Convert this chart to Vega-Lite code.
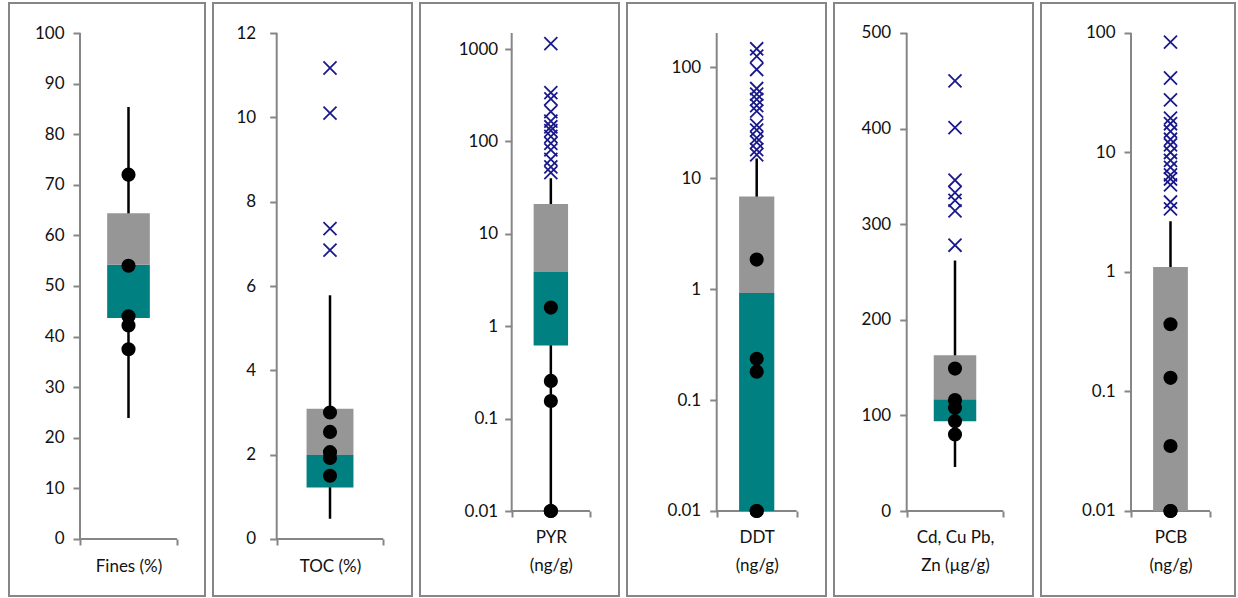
{
  "$schema": "https://vega.github.io/schema/vega-lite/v6.json",
  "background": "white",
  "padding": {"left": 8, "top": 2, "right": 0, "bottom": 0},
  "spacing": 6,
  "config": {
    "view": {"stroke": "#868686", "strokeWidth": 2},
    "axis": {"grid": false, "domain": false, "tickColor": "#868686", "tickWidth": 2, "labelFont": "Lato", "labelFontSize": 17, "labelColor": "#111111", "labelOverlap": false, "labelFlush": false, "labelBound": false, "titleFontSize": 0}
  },
  "datasets": {
    "stats": [
      {"panel": "Fines", "q1": 43.7, "median": 54.2, "q3": 64.4, "wlo": 23.9, "whi": 85.4},
      {"panel": "TOC", "q1": 1.22, "median": 1.99, "q3": 3.09, "wlo": 0.48, "whi": 5.78},
      {"panel": "PYR", "q1": 0.62, "median": 3.86, "q3": 21, "wlo": 0.01, "whi": 40},
      {"panel": "DDT", "q1": 0.01, "median": 0.92, "q3": 6.8, "wlo": 0.01, "whi": 15},
      {"panel": "Metals", "q1": 94, "median": 117, "q3": 163, "wlo": 46, "whi": 262},
      {"panel": "PCB", "q1": 0.01, "median": 0.01, "q3": 1.1, "wlo": 0.01, "whi": 2.66}
    ],
    "obs": [
      {"panel": "Fines", "kind": "dot", "value": 72},
      {"panel": "Fines", "kind": "dot", "value": 54},
      {"panel": "Fines", "kind": "dot", "value": 44},
      {"panel": "Fines", "kind": "dot", "value": 42.2},
      {"panel": "Fines", "kind": "dot", "value": 37.5},
      {"panel": "TOC", "kind": "dot", "value": 3.0},
      {"panel": "TOC", "kind": "dot", "value": 2.54},
      {"panel": "TOC", "kind": "dot", "value": 2.06},
      {"panel": "TOC", "kind": "dot", "value": 1.92},
      {"panel": "TOC", "kind": "dot", "value": 1.5},
      {"panel": "TOC", "kind": "out", "value": 11.17},
      {"panel": "TOC", "kind": "out", "value": 10.1},
      {"panel": "TOC", "kind": "out", "value": 7.36},
      {"panel": "TOC", "kind": "out", "value": 6.85},
      {"panel": "PYR", "kind": "dot", "value": 1.59},
      {"panel": "PYR", "kind": "dot", "value": 0.256},
      {"panel": "PYR", "kind": "dot", "value": 0.155},
      {"panel": "PYR", "kind": "dot", "value": 0.01},
      {"panel": "PYR", "kind": "dot", "value": 0.01},
      {"panel": "PYR", "kind": "out", "value": 1142},
      {"panel": "PYR", "kind": "out", "value": 338},
      {"panel": "PYR", "kind": "out", "value": 288},
      {"panel": "PYR", "kind": "out", "value": 210},
      {"panel": "PYR", "kind": "out", "value": 166},
      {"panel": "PYR", "kind": "out", "value": 144},
      {"panel": "PYR", "kind": "out", "value": 131},
      {"panel": "PYR", "kind": "out", "value": 113},
      {"panel": "PYR", "kind": "out", "value": 95},
      {"panel": "PYR", "kind": "out", "value": 81},
      {"panel": "PYR", "kind": "out", "value": 64},
      {"panel": "PYR", "kind": "out", "value": 53},
      {"panel": "PYR", "kind": "out", "value": 46},
      {"panel": "DDT", "kind": "dot", "value": 1.84},
      {"panel": "DDT", "kind": "dot", "value": 0.235},
      {"panel": "DDT", "kind": "dot", "value": 0.18},
      {"panel": "DDT", "kind": "dot", "value": 0.01},
      {"panel": "DDT", "kind": "dot", "value": 0.01},
      {"panel": "DDT", "kind": "out", "value": 146},
      {"panel": "DDT", "kind": "out", "value": 125},
      {"panel": "DDT", "kind": "out", "value": 95},
      {"panel": "DDT", "kind": "out", "value": 64},
      {"panel": "DDT", "kind": "out", "value": 57},
      {"panel": "DDT", "kind": "out", "value": 51},
      {"panel": "DDT", "kind": "out", "value": 45},
      {"panel": "DDT", "kind": "out", "value": 40},
      {"panel": "DDT", "kind": "out", "value": 30},
      {"panel": "DDT", "kind": "out", "value": 27},
      {"panel": "DDT", "kind": "out", "value": 23},
      {"panel": "DDT", "kind": "out", "value": 21},
      {"panel": "DDT", "kind": "out", "value": 18},
      {"panel": "DDT", "kind": "out", "value": 16.2},
      {"panel": "Metals", "kind": "dot", "value": 149},
      {"panel": "Metals", "kind": "dot", "value": 116},
      {"panel": "Metals", "kind": "dot", "value": 108},
      {"panel": "Metals", "kind": "dot", "value": 94},
      {"panel": "Metals", "kind": "dot", "value": 80},
      {"panel": "Metals", "kind": "out", "value": 450},
      {"panel": "Metals", "kind": "out", "value": 401},
      {"panel": "Metals", "kind": "out", "value": 346},
      {"panel": "Metals", "kind": "out", "value": 333},
      {"panel": "Metals", "kind": "out", "value": 325},
      {"panel": "Metals", "kind": "out", "value": 314},
      {"panel": "Metals", "kind": "out", "value": 278},
      {"panel": "PCB", "kind": "dot", "value": 0.365},
      {"panel": "PCB", "kind": "dot", "value": 0.13},
      {"panel": "PCB", "kind": "dot", "value": 0.035},
      {"panel": "PCB", "kind": "dot", "value": 0.01},
      {"panel": "PCB", "kind": "dot", "value": 0.01},
      {"panel": "PCB", "kind": "out", "value": 84},
      {"panel": "PCB", "kind": "out", "value": 42},
      {"panel": "PCB", "kind": "out", "value": 27.6},
      {"panel": "PCB", "kind": "out", "value": 19.4},
      {"panel": "PCB", "kind": "out", "value": 17.4},
      {"panel": "PCB", "kind": "out", "value": 15},
      {"panel": "PCB", "kind": "out", "value": 12.9},
      {"panel": "PCB", "kind": "out", "value": 11.6},
      {"panel": "PCB", "kind": "out", "value": 10},
      {"panel": "PCB", "kind": "out", "value": 8.6},
      {"panel": "PCB", "kind": "out", "value": 7.5},
      {"panel": "PCB", "kind": "out", "value": 6.5},
      {"panel": "PCB", "kind": "out", "value": 6.0},
      {"panel": "PCB", "kind": "out", "value": 5.35},
      {"panel": "PCB", "kind": "out", "value": 3.85},
      {"panel": "PCB", "kind": "out", "value": 3.37}
    ]
  },
  "hconcat": [
    {
      "width": 196, "height": 593,
      "layer": [
        {"data": {"name": "stats"}, "transform": [{"filter": "datum.panel == 'Fines'"}],
         "mark": {"type": "rule", "color": "#868686", "strokeWidth": 2},
         "encoding": {
           "x": {"datum": -0.5, "type": "quantitative", "scale": {"domain": [-1.232, 0.7887], "nice": false, "zero": false},
                 "axis": {"orient": "bottom", "offset": -57, "values": [-0.5, 0, 0.5], "tickSize": 6, "tickOpacity": {"condition": {"test": "datum.value == 0", "value": 0}, "value": 1}, "labelExpr": "datum.value == 0 ? 'Fines (%)' : ''", "labelPadding": 13, "labelBaseline": "top", "labelLineHeight": 28, "title": null}},
           "y": {"datum": 0, "type": "quantitative", "scale": {"domain": [-11.265, 105.929], "nice": false, "zero": false},
                 "axis": {"orient": "left", "offset": -71, "values": [0, 10, 20, 30, 40, 50, 60, 70, 80, 90, 100], "tickSize": 7, "labelPadding": 9, "title": null}},
           "y2": {"datum": 100}
         }},
        {"data": {"name": "stats"}, "transform": [{"filter": "datum.panel == 'Fines'"}],
         "mark": {"type": "rule", "color": "#868686", "strokeWidth": 2},
         "encoding": {"x": {"datum": -0.5, "type": "quantitative"}, "x2": {"datum": 0.5}, "y": {"datum": 0, "type": "quantitative"}}},
        {"data": {"name": "stats"}, "transform": [{"filter": "datum.panel == 'Fines'"}],
         "mark": {"type": "rule", "color": "black", "strokeWidth": 2.5},
         "encoding": {"x": {"datum": 0, "type": "quantitative"}, "y": {"field": "wlo", "type": "quantitative"}, "y2": {"field": "whi"}}},
        {"data": {"name": "stats"}, "transform": [{"filter": "datum.panel == 'Fines'"}],
         "mark": {"type": "rect", "color": "#008080"},
         "encoding": {"x": {"datum": -0.22, "type": "quantitative"}, "x2": {"datum": 0.22}, "y": {"field": "q1", "type": "quantitative"}, "y2": {"field": "median"}}},
        {"data": {"name": "stats"}, "transform": [{"filter": "datum.panel == 'Fines'"}],
         "mark": {"type": "rect", "color": "#969696"},
         "encoding": {"x": {"datum": -0.22, "type": "quantitative"}, "x2": {"datum": 0.22}, "y": {"field": "median", "type": "quantitative"}, "y2": {"field": "q3"}}},
        {"data": {"name": "obs"}, "transform": [{"filter": "datum.panel == 'Fines' && datum.kind == 'dot'"}],
         "mark": {"type": "point", "shape": "circle", "filled": true, "color": "black", "opacity": 1, "size": 200},
         "encoding": {"x": {"datum": 0, "type": "quantitative"}, "y": {"field": "value", "type": "quantitative"}}}
      ]
    },
    {
      "width": 199, "height": 593,
      "layer": [
        {"data": {"name": "stats"}, "transform": [{"filter": "datum.panel == 'TOC'"}],
         "mark": {"type": "rule", "color": "#868686", "strokeWidth": 2},
         "encoding": {
           "x": {"datum": -0.5, "type": "quantitative", "scale": {"domain": [-1.0976, 0.7692], "nice": false, "zero": false},
                 "axis": {"orient": "bottom", "offset": -57, "values": [-0.5, 0, 0.5], "tickSize": 6, "tickOpacity": {"condition": {"test": "datum.value == 0", "value": 0}, "value": 1}, "labelExpr": "datum.value == 0 ? 'TOC (%)' : ''", "labelPadding": 13, "labelBaseline": "top", "labelLineHeight": 28, "title": null}},
           "y": {"datum": 0, "type": "quantitative", "scale": {"domain": [-1.3518, 12.7115], "nice": false, "zero": false},
                 "axis": {"orient": "left", "offset": -63.7, "values": [0, 2, 4, 6, 8, 10, 12], "tickSize": 7, "labelPadding": 14, "title": null}},
           "y2": {"datum": 12}
         }},
        {"data": {"name": "stats"}, "transform": [{"filter": "datum.panel == 'TOC'"}],
         "mark": {"type": "rule", "color": "#868686", "strokeWidth": 2},
         "encoding": {"x": {"datum": -0.5, "type": "quantitative"}, "x2": {"datum": 0.5}, "y": {"datum": 0, "type": "quantitative"}}},
        {"data": {"name": "stats"}, "transform": [{"filter": "datum.panel == 'TOC'"}],
         "mark": {"type": "rule", "color": "black", "strokeWidth": 2.5},
         "encoding": {"x": {"datum": 0, "type": "quantitative"}, "y": {"field": "wlo", "type": "quantitative"}, "y2": {"field": "whi"}}},
        {"data": {"name": "stats"}, "transform": [{"filter": "datum.panel == 'TOC'"}],
         "mark": {"type": "rect", "color": "#008080"},
         "encoding": {"x": {"datum": -0.22, "type": "quantitative"}, "x2": {"datum": 0.22}, "y": {"field": "q1", "type": "quantitative"}, "y2": {"field": "median"}}},
        {"data": {"name": "stats"}, "transform": [{"filter": "datum.panel == 'TOC'"}],
         "mark": {"type": "rect", "color": "#969696"},
         "encoding": {"x": {"datum": -0.22, "type": "quantitative"}, "x2": {"datum": 0.22}, "y": {"field": "median", "type": "quantitative"}, "y2": {"field": "q3"}}},
        {"data": {"name": "obs"}, "transform": [{"filter": "datum.panel == 'TOC' && datum.kind == 'dot'"}],
         "mark": {"type": "point", "shape": "circle", "filled": true, "color": "black", "opacity": 1, "size": 200},
         "encoding": {"x": {"datum": 0, "type": "quantitative"}, "y": {"field": "value", "type": "quantitative"}}},
        {"data": {"name": "obs"}, "transform": [{"filter": "datum.panel == 'TOC' && datum.kind == 'out'"}],
         "mark": {"type": "point", "shape": "M-1,-1L1,1M-1,1L1,-1", "filled": false, "color": "#1a1a8c", "opacity": 1, "strokeWidth": 1.8, "size": 170},
         "encoding": {"x": {"datum": 0, "type": "quantitative"}, "y": {"field": "value", "type": "quantitative"}}}
      ]
    },
    {
      "width": 199, "height": 593,
      "layer": [
        {"data": {"name": "stats"}, "transform": [{"filter": "datum.panel == 'PYR'"}],
         "mark": {"type": "rule", "color": "#868686", "strokeWidth": 2},
         "encoding": {
           "x": {"datum": -0.5, "type": "quantitative", "scale": {"domain": [-1.6711, 0.8704], "nice": false, "zero": false},
                 "axis": {"orient": "bottom", "offset": -85, "values": [-0.5, 0, 0.5], "tickSize": 6, "tickOpacity": {"condition": {"test": "datum.value == 0", "value": 0}, "value": 1}, "labelExpr": "datum.value == 0 ? ['PYR', '(ng/g)'] : ''", "labelPadding": 12, "labelBaseline": "top", "labelLineHeight": 28, "title": null}},
           "y": {"datum": 0.01, "type": "quantitative", "scale": {"type": "log", "domain": [0.0012025, 3147], "nice": false},
                 "axis": {"orient": "left", "offset": -91.7, "values": [0.01, 0.1, 1, 10, 100, 1000], "format": "~g", "tickSize": 7, "labelPadding": 7, "title": null}},
           "y2": {"datum": 1490}
         }},
        {"data": {"name": "stats"}, "transform": [{"filter": "datum.panel == 'PYR'"}],
         "mark": {"type": "rule", "color": "#868686", "strokeWidth": 2},
         "encoding": {"x": {"datum": -0.5, "type": "quantitative"}, "x2": {"datum": 0.5}, "y": {"datum": 0.01, "type": "quantitative"}}},
        {"data": {"name": "stats"}, "transform": [{"filter": "datum.panel == 'PYR'"}],
         "mark": {"type": "rule", "color": "black", "strokeWidth": 2.5},
         "encoding": {"x": {"datum": 0, "type": "quantitative"}, "y": {"field": "wlo", "type": "quantitative"}, "y2": {"field": "whi"}}},
        {"data": {"name": "stats"}, "transform": [{"filter": "datum.panel == 'PYR'"}],
         "mark": {"type": "rect", "color": "#008080"},
         "encoding": {"x": {"datum": -0.22, "type": "quantitative"}, "x2": {"datum": 0.22}, "y": {"field": "q1", "type": "quantitative"}, "y2": {"field": "median"}}},
        {"data": {"name": "stats"}, "transform": [{"filter": "datum.panel == 'PYR'"}],
         "mark": {"type": "rect", "color": "#969696"},
         "encoding": {"x": {"datum": -0.22, "type": "quantitative"}, "x2": {"datum": 0.22}, "y": {"field": "median", "type": "quantitative"}, "y2": {"field": "q3"}}},
        {"data": {"name": "obs"}, "transform": [{"filter": "datum.panel == 'PYR' && datum.kind == 'dot'"}],
         "mark": {"type": "point", "shape": "circle", "filled": true, "color": "black", "opacity": 1, "size": 200},
         "encoding": {"x": {"datum": 0, "type": "quantitative"}, "y": {"field": "value", "type": "quantitative"}}},
        {"data": {"name": "obs"}, "transform": [{"filter": "datum.panel == 'PYR' && datum.kind == 'out'"}],
         "mark": {"type": "point", "shape": "M-1,-1L1,1M-1,1L1,-1", "filled": false, "color": "#1a1a8c", "opacity": 1, "strokeWidth": 1.8, "size": 170},
         "encoding": {"x": {"datum": 0, "type": "quantitative"}, "y": {"field": "value", "type": "quantitative"}}}
      ]
    },
    {
      "width": 199, "height": 593,
      "layer": [
        {"data": {"name": "stats"}, "transform": [{"filter": "datum.panel == 'DDT'"}],
         "mark": {"type": "rule", "color": "#868686", "strokeWidth": 2},
         "encoding": {
           "x": {"datum": -0.5, "type": "quantitative", "scale": {"domain": [-1.6213, 0.8663], "nice": false, "zero": false},
                 "axis": {"orient": "bottom", "offset": -85, "values": [-0.5, 0, 0.5], "tickSize": 6, "tickOpacity": {"condition": {"test": "datum.value == 0", "value": 0}, "value": 1}, "labelExpr": "datum.value == 0 ? ['DDT', '(ng/g)'] : ''", "labelPadding": 12, "labelBaseline": "top", "labelLineHeight": 28, "title": null}},
           "y": {"datum": 0.01, "type": "quantitative", "scale": {"type": "log", "domain": [0.0017148, 377.3], "nice": false},
                 "axis": {"orient": "left", "offset": -89.7, "values": [0.01, 0.1, 1, 10, 100], "format": "~g", "tickSize": 7, "labelPadding": 9, "title": null}},
           "y2": {"datum": 202}
         }},
        {"data": {"name": "stats"}, "transform": [{"filter": "datum.panel == 'DDT'"}],
         "mark": {"type": "rule", "color": "#868686", "strokeWidth": 2},
         "encoding": {"x": {"datum": -0.5, "type": "quantitative"}, "x2": {"datum": 0.5}, "y": {"datum": 0.01, "type": "quantitative"}}},
        {"data": {"name": "stats"}, "transform": [{"filter": "datum.panel == 'DDT'"}],
         "mark": {"type": "rule", "color": "black", "strokeWidth": 2.5},
         "encoding": {"x": {"datum": 0, "type": "quantitative"}, "y": {"field": "wlo", "type": "quantitative"}, "y2": {"field": "whi"}}},
        {"data": {"name": "stats"}, "transform": [{"filter": "datum.panel == 'DDT'"}],
         "mark": {"type": "rect", "color": "#008080"},
         "encoding": {"x": {"datum": -0.22, "type": "quantitative"}, "x2": {"datum": 0.22}, "y": {"field": "q1", "type": "quantitative"}, "y2": {"field": "median"}}},
        {"data": {"name": "stats"}, "transform": [{"filter": "datum.panel == 'DDT'"}],
         "mark": {"type": "rect", "color": "#969696"},
         "encoding": {"x": {"datum": -0.22, "type": "quantitative"}, "x2": {"datum": 0.22}, "y": {"field": "median", "type": "quantitative"}, "y2": {"field": "q3"}}},
        {"data": {"name": "obs"}, "transform": [{"filter": "datum.panel == 'DDT' && datum.kind == 'dot'"}],
         "mark": {"type": "point", "shape": "circle", "filled": true, "color": "black", "opacity": 1, "size": 200},
         "encoding": {"x": {"datum": 0, "type": "quantitative"}, "y": {"field": "value", "type": "quantitative"}}},
        {"data": {"name": "obs"}, "transform": [{"filter": "datum.panel == 'DDT' && datum.kind == 'out'"}],
         "mark": {"type": "point", "shape": "M-1,-1L1,1M-1,1L1,-1", "filled": false, "color": "#1a1a8c", "opacity": 1, "strokeWidth": 1.8, "size": 170},
         "encoding": {"x": {"datum": 0, "type": "quantitative"}, "y": {"field": "value", "type": "quantitative"}}}
      ]
    },
    {
      "width": 199, "height": 593,
      "layer": [
        {"data": {"name": "stats"}, "transform": [{"filter": "datum.panel == 'Metals'"}],
         "mark": {"type": "rule", "color": "#868686", "strokeWidth": 2},
         "encoding": {
           "x": {"datum": -0.5, "type": "quantitative", "scale": {"domain": [-1.2526, 0.8075], "nice": false, "zero": false},
                 "axis": {"orient": "bottom", "offset": -85, "values": [-0.5, 0, 0.5], "tickSize": 6, "tickOpacity": {"condition": {"test": "datum.value == 0", "value": 0}, "value": 1}, "labelExpr": "datum.value == 0 ? ['Cd, Cu Pb,', 'Zn (µg/g)'] : ''", "labelPadding": 12, "labelBaseline": "top", "labelLineHeight": 28, "title": null}},
           "y": {"datum": 0, "type": "quantitative", "scale": {"domain": [-88.91, 531.38], "nice": false, "zero": false},
                 "axis": {"orient": "left", "offset": -72.7, "values": [0, 100, 200, 300, 400, 500], "tickSize": 7, "labelPadding": 9, "title": null}},
           "y2": {"datum": 500}
         }},
        {"data": {"name": "stats"}, "transform": [{"filter": "datum.panel == 'Metals'"}],
         "mark": {"type": "rule", "color": "#868686", "strokeWidth": 2},
         "encoding": {"x": {"datum": -0.5, "type": "quantitative"}, "x2": {"datum": 0.5}, "y": {"datum": 0, "type": "quantitative"}}},
        {"data": {"name": "stats"}, "transform": [{"filter": "datum.panel == 'Metals'"}],
         "mark": {"type": "rule", "color": "black", "strokeWidth": 2.5},
         "encoding": {"x": {"datum": 0, "type": "quantitative"}, "y": {"field": "wlo", "type": "quantitative"}, "y2": {"field": "whi"}}},
        {"data": {"name": "stats"}, "transform": [{"filter": "datum.panel == 'Metals'"}],
         "mark": {"type": "rect", "color": "#008080"},
         "encoding": {"x": {"datum": -0.22, "type": "quantitative"}, "x2": {"datum": 0.22}, "y": {"field": "q1", "type": "quantitative"}, "y2": {"field": "median"}}},
        {"data": {"name": "stats"}, "transform": [{"filter": "datum.panel == 'Metals'"}],
         "mark": {"type": "rect", "color": "#969696"},
         "encoding": {"x": {"datum": -0.22, "type": "quantitative"}, "x2": {"datum": 0.22}, "y": {"field": "median", "type": "quantitative"}, "y2": {"field": "q3"}}},
        {"data": {"name": "obs"}, "transform": [{"filter": "datum.panel == 'Metals' && datum.kind == 'dot'"}],
         "mark": {"type": "point", "shape": "circle", "filled": true, "color": "black", "opacity": 1, "size": 200},
         "encoding": {"x": {"datum": 0, "type": "quantitative"}, "y": {"field": "value", "type": "quantitative"}}},
        {"data": {"name": "obs"}, "transform": [{"filter": "datum.panel == 'Metals' && datum.kind == 'out'"}],
         "mark": {"type": "point", "shape": "M-1,-1L1,1M-1,1L1,-1", "filled": false, "color": "#1a1a8c", "opacity": 1, "strokeWidth": 1.8, "size": 170},
         "encoding": {"x": {"datum": 0, "type": "quantitative"}, "y": {"field": "value", "type": "quantitative"}}}
      ]
    },
    {
      "width": 194, "height": 593,
      "layer": [
        {"data": {"name": "stats"}, "transform": [{"filter": "datum.panel == 'PCB'"}],
         "mark": {"type": "rule", "color": "#868686", "strokeWidth": 2},
         "encoding": {
           "x": {"datum": -0.5, "type": "quantitative", "scale": {"domain": [-1.6392, 0.8165], "nice": false, "zero": false},
                 "axis": {"orient": "bottom", "offset": -85, "values": [-0.5, 0, 0.5], "tickSize": 6, "tickOpacity": {"condition": {"test": "datum.value == 0", "value": 0}, "value": 1}, "labelExpr": "datum.value == 0 ? ['PCB', '(ng/g)'] : ''", "labelPadding": 12, "labelBaseline": "top", "labelLineHeight": 28, "title": null}},
           "y": {"datum": 0.01, "type": "quantitative", "scale": {"type": "log", "domain": [0.0019431, 178.2], "nice": false},
                 "axis": {"orient": "left", "offset": -90, "values": [0.01, 0.1, 1, 10, 100], "format": "~g", "tickSize": 7, "labelPadding": 9, "title": null}},
           "y2": {"datum": 100}
         }},
        {"data": {"name": "stats"}, "transform": [{"filter": "datum.panel == 'PCB'"}],
         "mark": {"type": "rule", "color": "#868686", "strokeWidth": 2},
         "encoding": {"x": {"datum": -0.5, "type": "quantitative"}, "x2": {"datum": 0.5}, "y": {"datum": 0.01, "type": "quantitative"}}},
        {"data": {"name": "stats"}, "transform": [{"filter": "datum.panel == 'PCB'"}],
         "mark": {"type": "rule", "color": "black", "strokeWidth": 2.5},
         "encoding": {"x": {"datum": 0, "type": "quantitative"}, "y": {"field": "wlo", "type": "quantitative"}, "y2": {"field": "whi"}}},
        {"data": {"name": "stats"}, "transform": [{"filter": "datum.panel == 'PCB'"}],
         "mark": {"type": "rect", "color": "#008080"},
         "encoding": {"x": {"datum": -0.22, "type": "quantitative"}, "x2": {"datum": 0.22}, "y": {"field": "q1", "type": "quantitative"}, "y2": {"field": "median"}}},
        {"data": {"name": "stats"}, "transform": [{"filter": "datum.panel == 'PCB'"}],
         "mark": {"type": "rect", "color": "#969696"},
         "encoding": {"x": {"datum": -0.22, "type": "quantitative"}, "x2": {"datum": 0.22}, "y": {"field": "median", "type": "quantitative"}, "y2": {"field": "q3"}}},
        {"data": {"name": "obs"}, "transform": [{"filter": "datum.panel == 'PCB' && datum.kind == 'dot'"}],
         "mark": {"type": "point", "shape": "circle", "filled": true, "color": "black", "opacity": 1, "size": 200},
         "encoding": {"x": {"datum": 0, "type": "quantitative"}, "y": {"field": "value", "type": "quantitative"}}},
        {"data": {"name": "obs"}, "transform": [{"filter": "datum.panel == 'PCB' && datum.kind == 'out'"}],
         "mark": {"type": "point", "shape": "M-1,-1L1,1M-1,1L1,-1", "filled": false, "color": "#1a1a8c", "opacity": 1, "strokeWidth": 1.8, "size": 170},
         "encoding": {"x": {"datum": 0, "type": "quantitative"}, "y": {"field": "value", "type": "quantitative"}}}
      ]
    }
  ]
}
